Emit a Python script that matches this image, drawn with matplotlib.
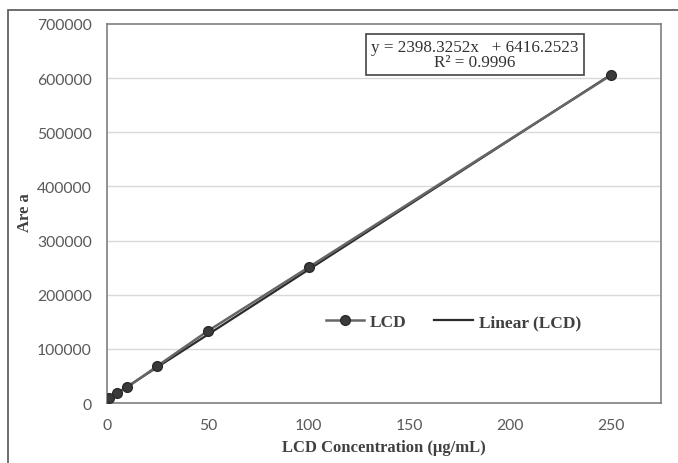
import matplotlib.pyplot as plt
import numpy as np
from matplotlib.patches import Rectangle

# calibration data
conc = [1, 5, 10, 25, 50, 100, 250]
area = [9000, 18500, 29000, 68500, 133000, 250500, 605000]

slope = 2398.3252
intercept = 6416.2523
r2 = 0.9996

xticks = [0, 50, 100, 150, 200, 250]
yticks = [0, 100000, 200000, 300000, 400000, 500000, 600000, 700000]

fig = plt.figure(figsize=(6.78, 4.64), dpi=100)
ax = fig.add_axes([0.158, 0.1293, 0.817, 0.817])

# outer frame of the picture (left and top edges visible)
fig.patches.append(Rectangle((8 / 678, -0.05), 1.2, (464 - 11) / 464 + 0.05,
                             transform=fig.transFigure, fill=False,
                             edgecolor='#555555', linewidth=1.2))

for y in yticks[1:-1]:
    ax.axhline(y, color='#d9d9d9', linewidth=1, zorder=0)

xfit = np.array([0, max(conc)])
ax.plot(xfit, slope * xfit + intercept, color='#2b2b2b', linewidth=1.6,
        label='Linear (LCD)', zorder=2)
ax.plot(conc, area, color='#666666', linewidth=1.8, marker='o',
        markersize=7, markerfacecolor='#3a3a3a', markeredgecolor='#2a2a2a',
        label='LCD', zorder=3)

ax.set_xlim(0, 275)
ax.set_ylim(0, 700000)
ax.set_xticks(xticks)
ax.set_yticks(yticks)
ax.tick_params(length=0, labelsize=11.3, labelcolor='#595959')
ax.tick_params(axis='x', pad=11)
ax.tick_params(axis='y', pad=11)
for lab in ax.get_xticklabels() + ax.get_yticklabels():
    lab.set_fontfamily('Lato')
for s in ax.spines.values():
    s.set_color('#7f7f7f')
    s.set_linewidth(1.2)

ax.set_xlabel('LCD Concentration (µg/mL)', fontfamily='Liberation Serif',
              fontweight='bold', fontsize=12, color='#404040', labelpad=5)
ax.set_ylabel('Are a', fontfamily='Liberation Serif', fontweight='bold',
              fontsize=12, color='#404040')
ax.yaxis.set_label_coords(-0.1336, 0.504)

ax.text(0.664, 0.9195, 'y = 2398.3252x   + 6416.2523\nR² = %.4f' % r2,
        transform=ax.transAxes, ha='center', va='center', multialignment='center',
        fontfamily='Liberation Serif', fontsize=12.3, color='#333333',
        linespacing=0.95,
        bbox=dict(boxstyle='square,pad=0.3', facecolor='white',
                  edgecolor='#444444', linewidth=1.2))

h, l = ax.get_legend_handles_labels()
leg = ax.legend(h[::-1], l[::-1], loc='center', bbox_to_anchor=(0.625, 0.214),
                ncol=2, frameon=False, handlelength=2.2, handletextpad=0.35,
                columnspacing=1.6,
                prop={'family': 'Liberation Serif', 'weight': 'bold', 'size': 12.5})
for t in leg.get_texts():
    t.set_color('#404040')

fig.savefig('out.png', dpi=100)
